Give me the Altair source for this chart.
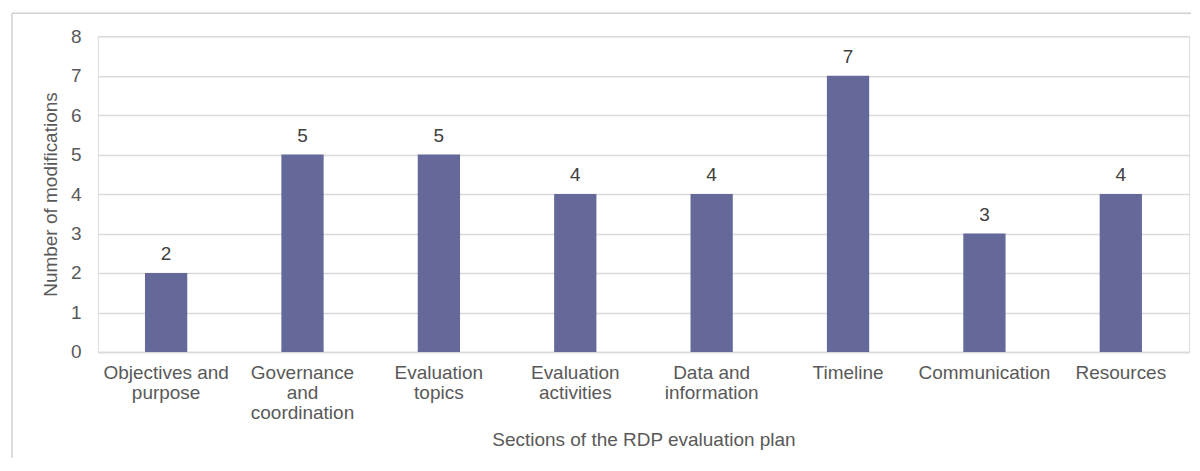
import altair as alt
import pandas as pd

categories = [
    "Objectives and\npurpose",
    "Governance\nand\ncoordination",
    "Evaluation\ntopics",
    "Evaluation\nactivities",
    "Data and\ninformation",
    "Timeline",
    "Communication",
    "Resources",
]
modifications = [2, 5, 5, 4, 4, 7, 3, 4]

df = pd.DataFrame({"section": categories, "count": modifications})

FONT = "Liberation Sans"
FS = 19
BAR = "#646999"
GRID = "#d9d9d9"
TXT = "#595959"

x_enc = alt.X(
    "section:N",
    sort=categories,
    scale=alt.Scale(paddingInner=0.69, paddingOuter=0.345),
    axis=alt.Axis(
        title="Sections of the RDP evaluation plan",
        labelAngle=0,
        labelExpr="split(datum.value, '\\n')",
        labelLineHeight=20,
        labelPadding=12,
        labelFontSize=FS,
        labelColor=TXT,
        labelFont=FONT,
        ticks=False,
        domainColor=GRID,
        domainWidth=1.5,
        titleFontSize=FS,
        titleFont=FONT,
        titleColor=TXT,
        titleFontWeight="normal",
        titlePadding=8,
        labelLimit=300,
    ),
)
y_enc = alt.Y(
    "count:Q",
    scale=alt.Scale(domain=[0, 8]),
    axis=alt.Axis(
        title="Number of modifications",
        values=[0, 1, 2, 3, 4, 5, 6, 7, 8],
        grid=True,
        gridColor=GRID,
        gridWidth=1.5,
        ticks=False,
        domain=False,
        labelPadding=17,
        labelFontSize=FS,
        labelColor=TXT,
        labelFont=FONT,
        titleFontSize=FS,
        titleFont=FONT,
        titleColor=TXT,
        titleFontWeight="normal",
        titlePadding=10,
    ),
)

base = alt.Chart(df)
bars = base.mark_bar(color=BAR).encode(x=x_enc, y=y_enc)
labels = base.mark_text(
    baseline="bottom", dy=-9, fontSize=FS, font=FONT, color="#404040"
).encode(x=x_enc, y=y_enc, text="count:Q")

frame = pd.DataFrame({"k": [0]})
top_line = alt.Chart(frame).mark_rule(color="#d0d0d0", strokeWidth=1.5).encode(
    x=alt.value(-86), x2=alt.value(1094), y=alt.value(-23)
)
left_line = alt.Chart(frame).mark_rule(color="#d0d0d0", strokeWidth=1.5).encode(
    x=alt.value(-86), y=alt.value(-23), y2=alt.value(422)
)

chart = (
    alt.layer(top_line, left_line, bars, labels)
    .properties(
        width=1092,
        height=316,
        padding={"left": 3, "top": 4, "right": 0, "bottom": 0},
    )
    .configure_view(stroke=None)
    .configure(background="white")
)

chart.save("out.html", embed_options={"renderer": "svg", "actions": False})
